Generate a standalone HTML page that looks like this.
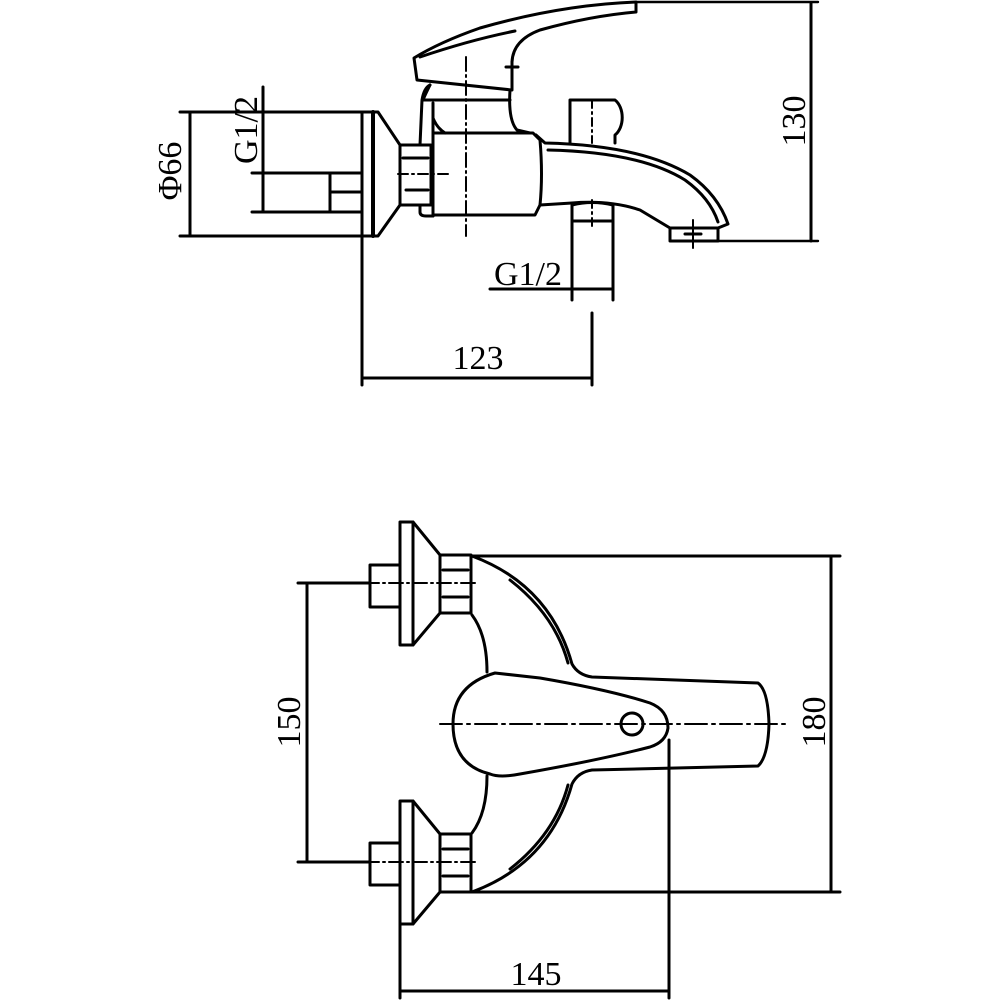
<!DOCTYPE html>
<html><head><meta charset="utf-8"><style>
html,body{margin:0;padding:0;background:#fff;}
svg{display:block;}
text{font-family:"Liberation Serif",serif;fill:#000;}
</style></head><body>
<svg width="1000" height="1000" viewBox="0 0 1000 1000" xmlns="http://www.w3.org/2000/svg">
<g fill="none" stroke="#000" stroke-width="3" stroke-linejoin="round" stroke-linecap="round">
<!-- ===== TOP VIEW ===== -->
<line x1="180" y1="112" x2="375" y2="112"/>
<line x1="180" y1="236" x2="375" y2="236"/>
<line x1="190" y1="112" x2="190" y2="236"/>
<line x1="263" y1="87" x2="263" y2="212"/>
<line x1="252" y1="173" x2="362" y2="173"/>
<line x1="252" y1="212" x2="362" y2="212"/>
<rect x="330" y="173" width="32" height="39"/>
<line x1="330" y1="192" x2="362" y2="192"/>
<line x1="362" y1="112" x2="362" y2="236"/>
<line x1="373" y1="112" x2="373" y2="236" stroke-width="4"/>
<polyline points="373,112 378,112 400,145 400,205 378,236 373,236"/>
<rect x="400" y="145" width="31" height="60"/>
<line x1="403" y1="158" x2="428" y2="158"/>
<line x1="406" y1="190" x2="428" y2="190"/>
<line x1="398" y1="174" x2="450" y2="174" stroke-dasharray="10,4,2,4" stroke-width="2"/>
<path d="M420,145 L422,100 Q424,88 430,85"/>
<path d="M420,205 L420,212 Q420,216 426,216 L433,216"/>
<line x1="433" y1="103" x2="433" y2="216"/>
<path d="M433,133 L533,133 L540,140 Q543,175 540,205 L535,215 L433,215"/>
<path d="M430,85 Q425,95 423,100 L510,100"/>
<path d="M433,118 Q437,128 445,133"/>
<path d="M510,90 Q508,120 517,130 L530,133"/>
<path d="M414,58 L417,80 L512,90 L512,62 Q513,40 540,30 Q590,16 636,12 L636,2 Q560,5 480,28 Q440,42 414,58 Z"/>
<path d="M420,57 Q470,40 515,31"/>
<line x1="512" y1="62" x2="512" y2="74"/>
<line x1="506" y1="67" x2="518" y2="67"/>
<line x1="636" y1="2" x2="818" y2="2" stroke-width="2.4"/>
<line x1="466" y1="57" x2="466" y2="236" stroke-dasharray="14,4,2,4" stroke-width="2"/>
<path d="M536,135 L545,143 Q640,145 690,175 Q718,195 728,224 L718,228"/>
<path d="M548,150 Q640,152 685,180 Q710,198 718,222"/>
<path d="M540,205 L572,203 Q610,200 640,210 Q660,222 670,228"/>
<rect x="670" y="228" width="48" height="13"/>
<line x1="718" y1="241" x2="818" y2="241" stroke-width="2.4"/>
<line x1="693" y1="220" x2="693" y2="248" stroke-width="2"/>
<line x1="685" y1="234" x2="701" y2="234" stroke-width="3"/>
<path d="M570,143 L570,100 L615,100 A14,20 0 0 1 615,135 L615,143"/>
<line x1="592" y1="100" x2="592" y2="143" stroke-dasharray="8,4,2,4" stroke-width="2"/>
<path d="M572,300 L572,205 Q592,200 613,205 L613,300"/>
<line x1="572" y1="221" x2="613" y2="221"/>
<line x1="490" y1="289" x2="613" y2="289"/>
<line x1="592" y1="200" x2="592" y2="228" stroke-dasharray="8,4,2,4" stroke-width="2"/>
<line x1="362" y1="236" x2="362" y2="385"/>
<line x1="592" y1="313" x2="592" y2="385"/>
<line x1="362" y1="378" x2="592" y2="378"/>
<line x1="811" y1="3" x2="811" y2="241"/>

<!-- ===== BOTTOM VIEW ===== -->
<rect x="370" y="565" width="30" height="42"/>
<polyline points="400,522 413,522 440,555 440,613 413,645 400,645 400,522"/>
<line x1="413" y1="522" x2="413" y2="645"/>
<rect x="440" y="555" width="31" height="58"/>
<line x1="443" y1="570" x2="468" y2="570"/>
<line x1="443" y1="597" x2="468" y2="597"/>
<line x1="365" y1="583" x2="475" y2="583" stroke-dasharray="14,4,2,4" stroke-width="2"/>
<rect x="370" y="843" width="30" height="42"/>
<polyline points="400,801 413,801 440,834 440,892 413,924 400,924 400,801"/>
<line x1="413" y1="801" x2="413" y2="924"/>
<rect x="440" y="834" width="31" height="58"/>
<line x1="443" y1="849" x2="468" y2="849"/>
<line x1="443" y1="876" x2="468" y2="876"/>
<line x1="365" y1="862" x2="475" y2="862" stroke-dasharray="14,4,2,4" stroke-width="2"/>
<path d="M472,556 Q550,585 572,664 Q578,675 592,677 L758,683 Q768,690 769,724 Q768,757 758,766 L592,770 Q578,772 572,784 Q550,863 472,892"/>
<path d="M510,580 Q555,615 568,663"/>
<path d="M510,869 Q555,834 568,785"/>
<path d="M472,615 Q487,635 487,672"/>
<path d="M472,833 Q487,813 487,776"/>
<path d="M495,673 L540,678 Q610,690 650,703 Q668,710 668,728 Q666,742 650,747 Q600,760 520,774 Q500,778 490,774 Q453,765 453,724 Q453,685 495,673 Z"/>
<circle cx="632" cy="724" r="11"/>
<line x1="440" y1="724" x2="788" y2="724" stroke-dasharray="22,5,3,5" stroke-width="2"/>
<line x1="298" y1="583" x2="370" y2="583"/>
<line x1="298" y1="862" x2="370" y2="862"/>
<line x1="307" y1="583" x2="307" y2="862"/>
<line x1="472" y1="556" x2="840" y2="556"/>
<line x1="472" y1="892" x2="840" y2="892"/>
<line x1="831" y1="556" x2="831" y2="892"/>
<line x1="400" y1="924" x2="400" y2="998"/>
<line x1="669" y1="740" x2="669" y2="998"/>
<line x1="400" y1="991" x2="669" y2="991"/>
</g>
<text x="0" y="0" font-size="34" text-anchor="middle" transform="translate(181,171) rotate(-90)">Φ66</text>
<text x="0" y="0" font-size="34" text-anchor="middle" transform="translate(257,130) rotate(-90)">G1/2</text>
<text x="528" y="285" font-size="34" text-anchor="middle">G1/2</text>
<text x="478" y="369" font-size="34" text-anchor="middle">123</text>
<text x="0" y="0" font-size="34" text-anchor="middle" transform="translate(805,121) rotate(-90)">130</text>
<text x="0" y="0" font-size="34" text-anchor="middle" transform="translate(300,722) rotate(-90)">150</text>
<text x="0" y="0" font-size="34" text-anchor="middle" transform="translate(825,722) rotate(-90)">180</text>
<text x="536" y="985" font-size="34" text-anchor="middle">145</text>
</svg>
</body></html>
